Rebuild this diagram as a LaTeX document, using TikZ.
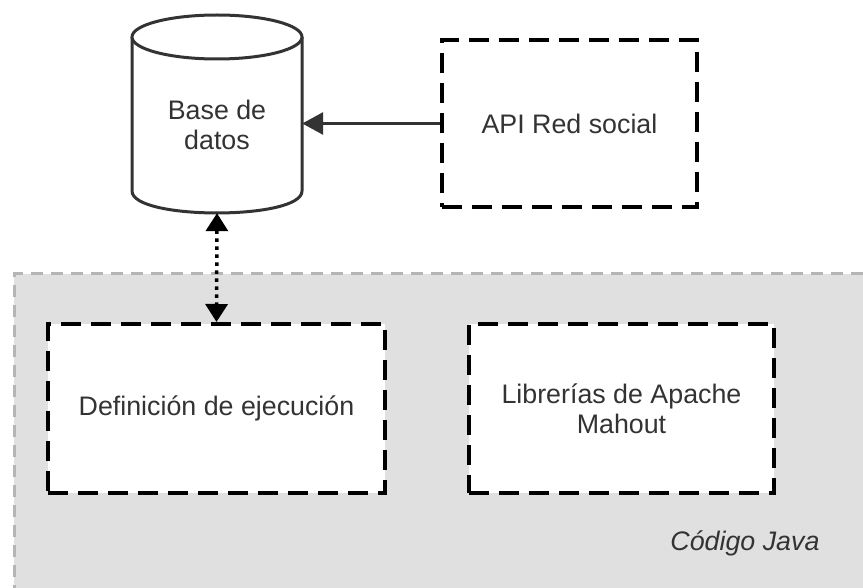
\documentclass[tikz,border=0pt]{standalone}
\usepackage{fontspec}
\setmainfont{Liberation Sans}
\usetikzlibrary{arrows.meta}
\definecolor{regionfill}{HTML}{E0E0E0}
\definecolor{regionline}{HTML}{B5B5B5}
\definecolor{ink}{HTML}{333333}
\begin{document}
\begin{tikzpicture}[x=1pt,y=-1pt,
  dashbox/.style={draw=black, fill=white, line width=4pt,
    dash pattern=on 20pt off 10pt, inner sep=0pt},
  txt/.style={font=\fontsize{26.8}{30}\selectfont, text=ink, align=center},
  solidtip/.style={-{Triangle[length=21pt,width=22pt]}},
  linkline/.style={line width=3.5pt, dash pattern=on 3.5pt off 4.5pt,
    {Triangle[length=18pt,width=22pt]}-{Triangle[length=18pt,width=22pt]}}
]
\useasboundingbox (0,0) rectangle (863,588);

% Java code region (extends past the right and bottom edges)
\fill[regionfill] (14,274) rectangle (863,588);
\draw[regionline, line width=3pt, dash pattern=on 12pt off 8pt]
  (863,274) -- (14,274) -- (14,588);

% database cylinder
\node[minimum width=170pt, minimum height=198pt, inner sep=0pt] (db) at (217,114) {};
\draw[ink, line width=3pt, fill=white]
  (132,37) -- (132,191) .. controls (132,220.3) and (302,220.3) .. (302,191)
  -- (302,37);
\draw[ink, line width=3pt, fill=white] (217,37) ellipse [x radius=85pt, y radius=22pt];
\node[txt] (dbtext) at (217,125) {Base de\\datos};

% dashed boxes
\node[dashbox, minimum width=255pt, minimum height=167pt] (api) at (569.5,123.5) {};
\node[txt] at (api.center) {API Red social};
\node[dashbox, minimum width=337pt, minimum height=169pt] (defn) at (216.5,408.5) {};
\node[txt] at (defn.center) {Definición de ejecución};
\node[dashbox, minimum width=305pt, minimum height=169pt] (lib) at (621.5,408.5) {};
\node[txt] at (lib.center) {Librerías de Apache\\Mahout};

\node[txt, anchor=east, font=\fontsize{26.8}{30}\selectfont\itshape] (java) at (823,543) {Código Java};

% connectors
\draw[ink, line width=3pt, solidtip] (api.west) -- (api.west -| db.east);
\draw[black, linkline] (db.south) -- (defn.north);
\end{tikzpicture}
\end{document}
